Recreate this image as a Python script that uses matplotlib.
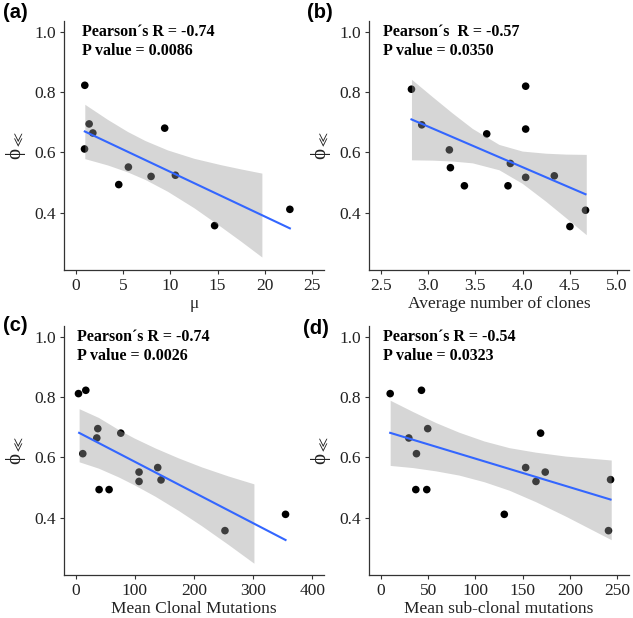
import matplotlib
matplotlib.use('Agg')
import matplotlib.pyplot as plt
import numpy as np

plt.rcParams['font.family'] = ['Liberation Serif', 'DejaVu Serif']
plt.rcParams['mathtext.fontset'] = 'stix'

phi = [0.822, 0.694, 0.664, 0.611, 0.680, 0.551, 0.493, 0.520, 0.524, 0.357, 0.411]

# (a) mu
mu_x = [0.95, 1.41, 1.80, 0.92, 9.40, 5.56, 4.54, 7.96, 10.53, 14.68, 22.64]
mu_y = phi
mu_fit_x = [0.95, 22.64]
mu_fit_y = [0.669, 0.348]
mu_band_x = [0.95, 3.35, 5.46, 7.32, 9.68, 12.5, 15.32, 17.43, 19.68]
mu_band_hi = [0.759, 0.709, 0.669, 0.639, 0.608, 0.580, 0.559, 0.545, 0.531]
mu_band_lo = [0.579, 0.558, 0.535, 0.510, 0.471, 0.416, 0.354, 0.306, 0.253]

# (b) average number of clones
cl_x = [2.824, 2.933, 3.225, 3.236, 3.384, 3.620, 3.870, 3.845, 4.032, 4.032, 4.032, 4.335, 4.665, 4.500]
cl_y = [0.809, 0.691, 0.608, 0.549, 0.489, 0.661, 0.563, 0.489, 0.819, 0.677, 0.517, 0.522, 0.408, 0.354]
cl_fit_x = [2.824, 4.665]
cl_fit_y = [0.709, 0.461]
cl_band_x = [2.824, 3.046, 3.257, 3.468, 3.750, 3.996, 4.243, 4.454, 4.673]
cl_band_hi = [0.842, 0.784, 0.730, 0.679, 0.626, 0.604, 0.597, 0.594, 0.593]
cl_band_lo = [0.575, 0.574, 0.571, 0.565, 0.542, 0.497, 0.438, 0.384, 0.327]

# (c) mean clonal mutations
cm_x = [4.5, 16.9, 37.2, 35.5, 11.8, 76.1, 39.4, 56.3, 107.0, 107.0, 138.6, 144.2, 252.4, 354.9]
cm_y = [0.811, 0.822, 0.695, 0.664, 0.612, 0.680, 0.493, 0.493, 0.551, 0.520, 0.566, 0.525, 0.357, 0.411]
cm_fit_x = [5.6, 354.9]
cm_fit_y = [0.681, 0.326]
cm_band_x = [5.6, 38.3, 72.1, 98.6, 134.1, 173.5, 213.0, 258.0, 301.4]
cm_band_hi = [0.761, 0.732, 0.692, 0.664, 0.631, 0.598, 0.568, 0.538, 0.512]
cm_band_lo = [0.585, 0.564, 0.535, 0.509, 0.471, 0.424, 0.373, 0.311, 0.249]

# (d) mean sub-clonal mutations
sm_x = [9.9, 43.0, 29.6, 49.6, 37.7, 37.0, 48.6, 130.6, 153.2, 164.1, 169.0, 173.9, 243.0, 240.8]
sm_y = [0.811, 0.822, 0.664, 0.695, 0.612, 0.493, 0.493, 0.411, 0.566, 0.520, 0.680, 0.551, 0.526, 0.357]
sm_fit_x = [9.9, 243.0]
sm_fit_y = [0.681, 0.460]
sm_band_x = [9.9, 33.5, 58.1, 82.7, 109.2, 135.6, 163.7, 195.4, 243.7]
sm_band_hi = [0.789, 0.752, 0.715, 0.683, 0.654, 0.632, 0.617, 0.604, 0.591]
sm_band_lo = [0.573, 0.566, 0.555, 0.541, 0.519, 0.491, 0.453, 0.405, 0.327]

panels = [
    ('(a)', mu_x, mu_y, mu_fit_x, mu_fit_y, mu_band_x, mu_band_hi, mu_band_lo,
     'μ', [0, 5, 10, 15, 20, 25], ['0', '5', '10', '15', '20', '25'], (-1.25, 26.25),
     "Pearson\u00b4s R = -0.74", 'P value = 0.0086'),
    ('(b)', cl_x, cl_y, cl_fit_x, cl_fit_y, cl_band_x, cl_band_hi, cl_band_lo,
     'Average number of clones', [2.5, 3.0, 3.5, 4.0, 4.5, 5.0],
     ['2.5', '3.0', '3.5', '4.0', '4.5', '5.0'], (2.375, 5.125),
     "Pearson\u00b4s  R = -0.57", 'P value = 0.0350'),
    ('(c)', cm_x, cm_y, cm_fit_x, cm_fit_y, cm_band_x, cm_band_hi, cm_band_lo,
     'Mean Clonal Mutations', [0, 100, 200, 300, 400], ['0', '100', '200', '300', '400'],
     (-20, 420), "Pearson\u00b4s R = -0.74", 'P value = 0.0026'),
    ('(d)', sm_x, sm_y, sm_fit_x, sm_fit_y, sm_band_x, sm_band_hi, sm_band_lo,
     'Mean sub-clonal mutations', [0, 50, 100, 150, 200, 250],
     ['0', '50', '100', '150', '200', '250'], (-12.5, 262.5),
     "Pearson\u00b4s R = -0.54", 'P value = 0.0323'),
]

yticks = [0.4, 0.6, 0.8, 1.0]
ytick_labels = ['0.4', '0.6', '0.8', '1.0']

fig = plt.figure(figsize=(6.33, 6.18), dpi=100)
W, H = 633, 618
# axes corner (left, bottom) in pixels from the top-left, and panel tag position
boxes = [(64, 270, 3, 13, 0.07), (369, 270, 307, 12, 0.055),
         (64, 575, 3, 326, 0.05), (369, 575, 303, 329, 0.055)]
ax_w, ax_h = 260, 249

for (lab, xs, ys, fx, fy, bx, bhi, blo, xlab, xt, xtl, xlim, t1, t2), (l, b, tx, ty, px) in zip(panels, boxes):
    ax = fig.add_axes([l / W, (H - b) / H, ax_w / W, ax_h / H])
    ax.scatter(xs, ys, s=30, color='black', edgecolors='none', zorder=2)
    ax.fill_between(bx, blo, bhi, color='#999999', alpha=0.4, linewidth=0, zorder=3)
    ax.plot(fx, fy, color='#3366FF', linewidth=1.5, zorder=4)
    ax.set_xlim(*xlim)
    ax.set_ylim(0.21, 1.035)
    ax.set_xticks(xt)
    ax.set_xticklabels(xtl)
    ax.set_yticks(yticks)
    ax.set_yticklabels(ytick_labels)
    for s in ['top', 'right']:
        ax.spines[s].set_visible(False)
    for s in ['left', 'bottom']:
        ax.spines[s].set_color('#333333')
        ax.spines[s].set_linewidth(0.9)
    ax.tick_params(length=3, width=0.8, color='#333333', labelsize=12.5,
                   labelcolor='#222222', pad=3)
    ax.set_xlabel(xlab, fontsize=12.5, color='#222222', labelpad=1)
    ax.set_ylabel('\u03d5$_{\\ll}$', fontsize=15, color='#222222')
    ax.yaxis.set_label_coords(-0.14, 0.5)
    ax.text(px, 0.955, t1, transform=ax.transAxes, fontsize=11.5, fontweight='bold',
            va='center', ha='left')
    ax.text(px, 0.88, t2, transform=ax.transAxes, fontsize=11.5, fontweight='bold',
            va='center', ha='left')
    fig.text(tx / W, 1 - ty / H, lab, fontsize=14.5, fontweight='bold',
             family='Liberation Sans', va='center', ha='left')

fig.savefig('out.png', dpi=100)
